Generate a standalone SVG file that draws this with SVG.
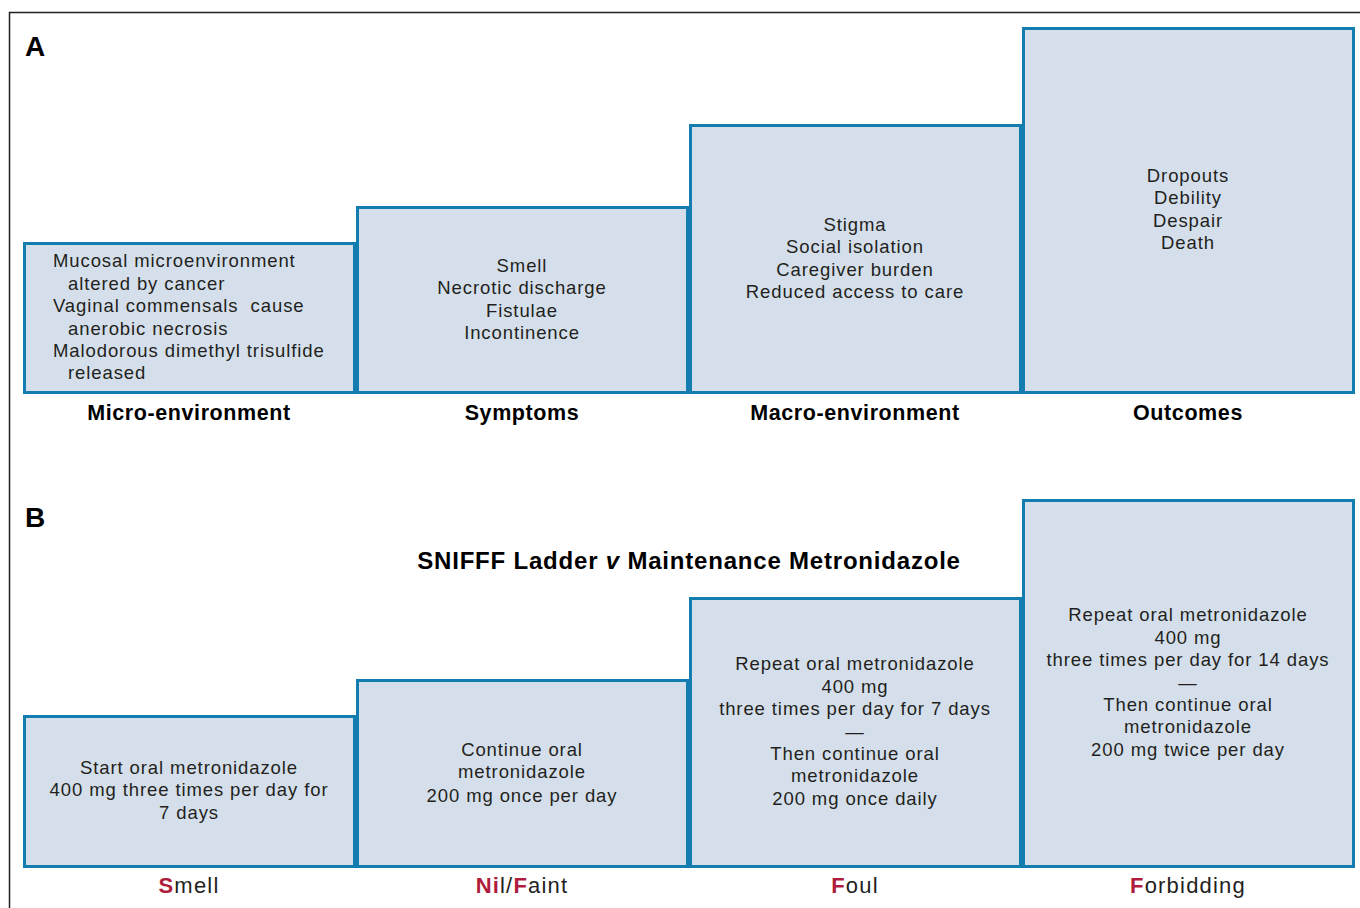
<svg xmlns="http://www.w3.org/2000/svg" width="1360" height="908" viewBox="0 0 1360 908">
<style>
.bx{fill:#d5dfeb;stroke:#137db0;stroke-width:3}
.t{font-family:"Liberation Sans",Arial,sans-serif;font-size:18.5px;letter-spacing:0.9px;fill:#231f20}
.c{text-anchor:middle}
.lb{font-family:"Liberation Sans",Arial,sans-serif;font-size:21.5px;letter-spacing:0.6px;font-weight:bold;fill:#000;text-anchor:middle}
.lr{font-family:"Liberation Sans",Arial,sans-serif;font-size:22px;letter-spacing:1.2px;fill:#231f20;text-anchor:middle}
.r{fill:#b01c3c;font-weight:bold}
.pl{font-family:"Liberation Sans",Arial,sans-serif;font-size:28px;font-weight:bold;fill:#000}
</style>
<rect width="1360" height="908" fill="#fff"/>
<g id="frame"><path d="M9.5 908 V12.5 H1360" fill="none" stroke="#222" stroke-width="1.5"/></g>
<text class="pl" x="25" y="56">A</text>
<text class="pl" x="25" y="527">B</text>
<g id="a1"><rect class="bx" x="24.5" y="243.5" width="330" height="149"/>
<text class="t" x="53" y="267">Mucosal microenvironment</text>
<text class="t" x="68" y="290">altered by cancer</text>
<text class="t" x="53" y="312">Vaginal commensals&#160; cause</text>
<text class="t" x="68" y="335">anerobic necrosis</text>
<text class="t" x="53" y="357">Malodorous dimethyl trisulfide</text>
<text class="t" x="68" y="379">released</text>
<text class="lb" x="189" y="420">Micro-environment</text></g>
<g id="a2"><rect class="bx" x="357.5" y="207.5" width="330" height="185"/>
<text class="t c" x="522" y="272">Smell</text>
<text class="t c" x="522" y="294">Necrotic discharge</text>
<text class="t c" x="522" y="317">Fistulae</text>
<text class="t c" x="522" y="339">Incontinence</text>
<text class="lb" x="522" y="420">Symptoms</text></g>
<g id="a3"><rect class="bx" x="690.5" y="125.5" width="330" height="267"/>
<text class="t c" x="855" y="231">Stigma</text>
<text class="t c" x="855" y="253">Social isolation</text>
<text class="t c" x="855" y="276">Caregiver burden</text>
<text class="t c" x="855" y="298">Reduced access to care</text>
<text class="lb" x="855" y="420">Macro-environment</text></g>
<g id="a4"><rect class="bx" x="1023.5" y="28.5" width="330" height="364"/>
<text class="t c" x="1188" y="182">Dropouts</text>
<text class="t c" x="1188" y="204">Debility</text>
<text class="t c" x="1188" y="227">Despair</text>
<text class="t c" x="1188" y="249">Death</text>
<text class="lb" x="1188" y="420">Outcomes</text></g>
<text class="lb" x="689" y="569" style="font-size:24px;letter-spacing:0.8px">SNIFFF Ladder <tspan font-style="italic">v</tspan> Maintenance Metronidazole</text>
<g id="b1"><rect class="bx" x="24.5" y="716.5" width="330" height="150"/>
<text class="t c" x="189" y="774">Start oral metronidazole</text>
<text class="t c" x="189" y="796">400 mg three times per day for</text>
<text class="t c" x="189" y="819">7 days</text>
<text class="lr" x="189" y="893"><tspan class="r">S</tspan>mell</text></g>
<g id="b2"><rect class="bx" x="357.5" y="680.5" width="330" height="186"/>
<text class="t c" x="522" y="756">Continue oral</text>
<text class="t c" x="522" y="778">metronidazole</text>
<text class="t c" x="522" y="802">200 mg once per day</text>
<text class="lr" x="522" y="893"><tspan class="r">Ni</tspan>l/<tspan class="r">F</tspan>aint</text></g>
<g id="b3"><rect class="bx" x="690.5" y="598.5" width="330" height="268"/>
<text class="t c" x="855" y="670">Repeat oral metronidazole</text>
<text class="t c" x="855" y="693">400 mg</text>
<text class="t c" x="855" y="715">three times per day for 7 days</text>
<text class="t c" x="855" y="738">—</text>
<text class="t c" x="855" y="760">Then continue oral</text>
<text class="t c" x="855" y="782">metronidazole</text>
<text class="t c" x="855" y="805">200 mg once daily</text>
<text class="lr" x="855" y="893"><tspan class="r">F</tspan>oul</text></g>
<g id="b4"><rect class="bx" x="1023.5" y="500.5" width="330" height="366"/>
<text class="t c" x="1188" y="621">Repeat oral metronidazole</text>
<text class="t c" x="1188" y="644">400 mg</text>
<text class="t c" x="1188" y="666">three times per day for 14 days</text>
<text class="t c" x="1188" y="689">—</text>
<text class="t c" x="1188" y="711">Then continue oral</text>
<text class="t c" x="1188" y="733">metronidazole</text>
<text class="t c" x="1188" y="756">200 mg twice per day</text>
<text class="lr" x="1188" y="893"><tspan class="r">F</tspan>orbidding</text></g>
<g id="connectors"/>
</svg>
